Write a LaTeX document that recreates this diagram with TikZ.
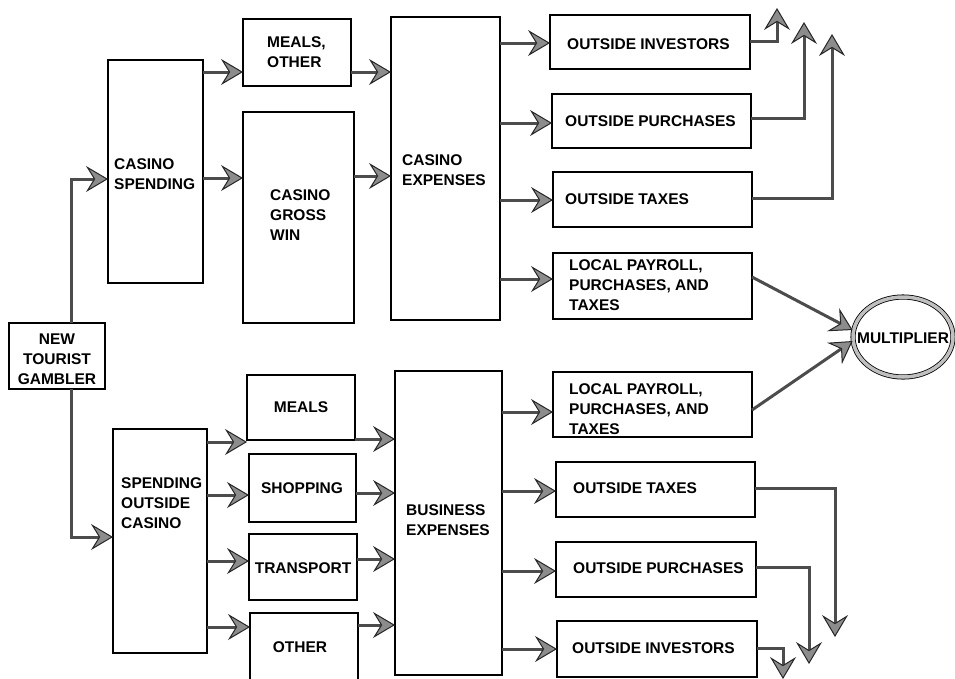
\documentclass[tikz,border=0pt]{standalone}
\usepackage{fontspec}
\setmainfont{Liberation Sans}
\usetikzlibrary{arrows.meta,shapes.geometric}
\tikzset{
  box/.style={draw=black, line width=1.3pt, inner sep=0pt, outer sep=0pt},
  lbl/.style={inner sep=0pt, align=left, font=\fontsize{15.5}{20}\selectfont\bfseries},
  conn/.style={draw=black!70, line width=3pt,
    -{Stealth[length=22pt,width=26pt,inset=8pt,fill=black!45,color=black!85,line width=1pt]}},
}
\newcommand{\bx}[5]{%
  \node[box, minimum width={(#4)-(#2)}, minimum height={(#5)-(#3)}] (#1) at ({((#2)+(#4))/2},{((#3)+(#5))/2}) {};}
\begin{document}
\begin{tikzpicture}[x=1pt,y=-1pt]
\useasboundingbox (0,0) rectangle (955,678);
% boxes
\bx{gam}{9}{323}{105}{389}
\bx{cs}{108}{60}{203}{283}
\bx{so}{113}{429}{207}{653}
\bx{mo}{243}{19}{351}{86}
\bx{gw}{243}{112}{354}{323}
\bx{ce}{391}{17}{500}{320}
\bx{ml}{247}{375}{355}{440}
\bx{sh}{249}{454}{356}{522}
\bx{tr}{249}{534}{357}{600}
\bx{ot}{250}{613}{358}{685}
\bx{be}{395}{371}{502}{675}
\bx{oi1}{550}{15}{750}{69}
\bx{op1}{552}{94}{751}{148}
\bx{ox1}{553}{172}{752}{227}
\bx{lp1}{553}{253}{752}{319}
\bx{lp2}{553}{372}{752}{437}
\bx{ox2}{556}{462}{755}{517}
\bx{op2}{556}{542}{756}{597}
\bx{oi2}{557}{621}{757}{677}
\node[ellipse, draw=black, line width=0.8pt, double=gray!50, double distance=3.5pt,
      minimum width=100pt, minimum height=80pt, inner sep=0pt] (mul) at (903,337) {};
% labels
\node[lbl, align=center] (gam-t) at (57,359) {NEW\\TOURIST\\GAMBLER};
\node[lbl, anchor=west] (cs-t) at (114,174) {CASINO\\SPENDING};
\node[lbl, anchor=west] (so-t) at (121,503) {SPENDING\\OUTSIDE\\CASINO};
\node[lbl, anchor=west] (mo-t) at (267,52) {MEALS,\\OTHER};
\node[lbl, anchor=west] (gw-t) at (270,215) {CASINO\\GROSS\\WIN};
\node[lbl, anchor=west] (ce-t) at (402,170) {CASINO\\EXPENSES};
\node[lbl] (ml-t) at (301,407) {MEALS};
\node[lbl] (sh-t) at (302,488) {SHOPPING};
\node[lbl] (tr-t) at (303,568) {TRANSPORT};
\node[lbl] (ot-t) at (300,647) {OTHER};
\node[lbl, anchor=west] (be-t) at (406,520) {BUSINESS\\EXPENSES};
\node[lbl, anchor=west] (oi1-t) at (567,44) {OUTSIDE INVESTORS};
\node[lbl, anchor=west] (op1-t) at (565,121) {OUTSIDE PURCHASES};
\node[lbl, anchor=west] (ox1-t) at (565,199) {OUTSIDE TAXES};
\node[lbl, anchor=west] (lp1-t) at (569,285) {LOCAL PAYROLL,\\PURCHASES, AND\\TAXES};
\node[lbl, anchor=west] (lp2-t) at (569,409) {LOCAL PAYROLL,\\PURCHASES, AND\\TAXES};
\node[lbl, anchor=west] (ox2-t) at (573,488) {OUTSIDE TAXES};
\node[lbl, anchor=west] (op2-t) at (573,568) {OUTSIDE PURCHASES};
\node[lbl, anchor=west] (oi2-t) at (572,648) {OUTSIDE INVESTORS};
\node[lbl] (mul-t) at (903,338) {MULTIPLIER};
% free ends
\coordinate (u1) at (777,8);
\coordinate (u2) at (804,22);
\coordinate (u3) at (832,34);
\coordinate (d1) at (835,637);
\coordinate (d2) at (809,664);
\coordinate (d3) at (783,679);
% connectors
\draw[conn] (gam.north -| 71,0) |- (cs.west |- 0,179);
\draw[conn] (gam.south -| 71,0) |- (so.west |- 0,537);
\draw[conn] (cs.east |- 0,72) -- (mo.west |- 0,72);
\draw[conn] (cs.east |- 0,178) -- (gw.west |- 0,178);
\draw[conn] (mo.east |- 0,72) -- (ce.west |- 0,72);
\draw[conn] (gw.east |- 0,176) -- (ce.west |- 0,176);
\draw[conn] (ce.east |- 0,43) -- (oi1.west |- 0,43);
\draw[conn] (ce.east |- 0,123) -- (op1.west |- 0,123);
\draw[conn] (ce.east |- 0,200) -- (ox1.west |- 0,200);
\draw[conn] (ce.east |- 0,279) -- (lp1.west |- 0,279);
\draw[conn] (oi1.east |- 0,41) -| (u1);
\draw[conn] (op1.east |- 0,118) -| (u2);
\draw[conn] (ox1.east |- 0,198) -| (u3);
\draw[conn] (lp1.east |- 0,277) -- (mul.west |- 0,330);
\draw[conn] (lp2.east |- 0,410) -- (mul.west |- 0,341);
\draw[conn] (so.east |- 0,442) -- (ml.west |- 0,442);
\draw[conn] (so.east |- 0,495) -- (sh.west |- 0,495);
\draw[conn] (so.east |- 0,561) -- (tr.west |- 0,561);
\draw[conn] (so.east |- 0,627) -- (ot.west |- 0,627);
\draw[conn] (ml.east |- 0,439) -- (be.west |- 0,439);
\draw[conn] (sh.east |- 0,493) -- (be.west |- 0,493);
\draw[conn] (tr.east |- 0,559) -- (be.west |- 0,559);
\draw[conn] (ot.east |- 0,625) -- (be.west |- 0,625);
\draw[conn] (be.east |- 0,412) -- (lp2.west |- 0,412);
\draw[conn] (be.east |- 0,491) -- (ox2.west |- 0,491);
\draw[conn] (be.east |- 0,571) -- (op2.west |- 0,571);
\draw[conn] (be.east |- 0,649) -- (oi2.west |- 0,649);
\draw[conn] (ox2.east |- 0,488) -| (d1);
\draw[conn] (op2.east |- 0,567) -| (d2);
\draw[conn] (oi2.east |- 0,648) -| (d3);
\end{tikzpicture}
\end{document}
